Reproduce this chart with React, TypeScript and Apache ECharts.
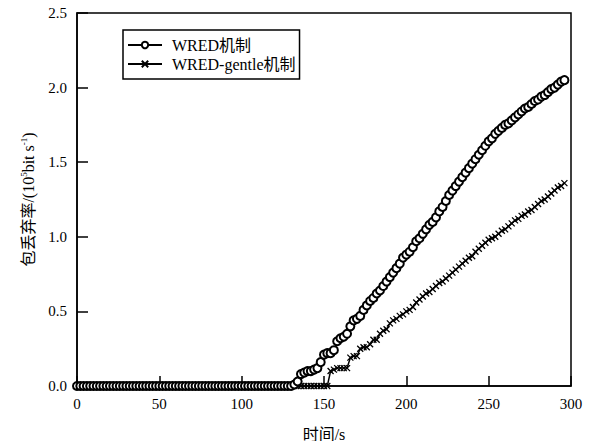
import React, { useEffect, useRef } from "react";
import * as echarts from "echarts";

const xTicks = [0, 50, 100, 150, 200, 250, 300];
const yTicks = [0, 0.5, 1.0, 1.5, 2.0, 2.5];

const timeS = [
  0, 2, 4, 6, 8, 10, 12, 14, 16, 18, 20, 22, 24, 26, 28, 30, 32, 34, 36, 38,
  40, 42, 44, 46, 48, 50, 52, 54, 56, 58, 60, 62, 64, 66, 68, 70, 72, 74, 76, 78,
  80, 82, 84, 86, 88, 90, 92, 94, 96, 98, 100, 102, 104, 106, 108, 110, 112, 114, 116, 118,
  120, 122, 124, 126, 128, 130, 132, 134, 136, 138, 140, 142, 144, 146, 148, 150, 152, 154, 156, 158,
  160, 162, 164, 166, 168, 170, 172, 174, 176, 178, 180, 182, 184, 186, 188, 190, 192, 194, 196, 198,
  200, 202, 204, 206, 208, 210, 212, 214, 216, 218, 220, 222, 224, 226, 228, 230, 232, 234, 236, 238,
  240, 242, 244, 246, 248, 250, 252, 254, 256, 258, 260, 262, 264, 266, 268, 270, 272, 274, 276, 278,
  280, 282, 284, 286, 288, 290, 292, 294, 296,
];

const wredValues = [
  0, 0, 0, 0, 0, 0, 0, 0, 0, 0, 0, 0, 0, 0, 0, 0, 0, 0, 0, 0,
  0, 0, 0, 0, 0, 0, 0, 0, 0, 0, 0, 0, 0, 0, 0, 0, 0, 0, 0, 0,
  0, 0, 0, 0, 0, 0, 0, 0, 0, 0, 0, 0, 0, 0, 0, 0, 0, 0, 0, 0,
  0, 0, 0, 0, 0, 0,
  0.01, 0.03, 0.08, 0.09, 0.10, 0.10, 0.11, 0.12, 0.16, 0.21, 0.22, 0.22, 0.24, 0.30,
  0.32, 0.33, 0.35, 0.40, 0.44, 0.45, 0.47, 0.51, 0.54, 0.57, 0.59, 0.62, 0.64, 0.67, 0.70, 0.73,
  0.76, 0.79, 0.82, 0.86, 0.88, 0.90, 0.93, 0.97, 0.99, 1.02, 1.05, 1.08, 1.10, 1.13, 1.17, 1.20,
  1.24, 1.28, 1.31, 1.34, 1.37, 1.40, 1.43, 1.46, 1.49, 1.52, 1.55, 1.58, 1.61, 1.64, 1.66, 1.69,
  1.71, 1.73, 1.75, 1.76, 1.78, 1.80, 1.82, 1.84, 1.86, 1.87, 1.89, 1.91, 1.92, 1.94, 1.95, 1.97,
  1.99, 2.00, 2.02, 2.04, 2.05,
];

const gentleValues = [
  0, 0, 0, 0, 0, 0, 0, 0, 0, 0, 0, 0, 0, 0, 0, 0, 0, 0, 0, 0,
  0, 0, 0, 0, 0, 0, 0, 0, 0, 0, 0, 0, 0, 0, 0, 0, 0, 0, 0, 0,
  0, 0, 0, 0, 0, 0, 0, 0, 0, 0, 0, 0, 0, 0, 0, 0, 0, 0, 0, 0,
  0, 0, 0, 0, 0, 0, 0, 0, 0, 0, 0, 0, 0, 0, 0, 0, 0,
  0.10, 0.11, 0.12, 0.12, 0.12, 0.12, 0.19, 0.20, 0.20, 0.25, 0.26, 0.26, 0.28, 0.31, 0.31, 0.35,
  0.37, 0.38, 0.42, 0.44, 0.45, 0.47, 0.48, 0.50, 0.51, 0.53, 0.56, 0.58, 0.60, 0.62, 0.63, 0.65,
  0.67, 0.69, 0.70, 0.72, 0.74, 0.76, 0.78, 0.80, 0.82, 0.84, 0.86, 0.87, 0.90, 0.92, 0.94, 0.96,
  0.98, 0.99, 1.00, 1.02, 1.04, 1.05, 1.07, 1.09, 1.11, 1.12, 1.14, 1.15, 1.17, 1.18, 1.20, 1.22,
  1.24, 1.25, 1.27, 1.29, 1.31, 1.33, 1.34, 1.36,
];

const seriesNames = ["WRED机制", "WRED-gentle机制"];
const xName = "时间/s";

const FONT = "'Liberation Serif', 'Noto Sans CJK SC', serif";

export default function App() {
  const ref = useRef<HTMLDivElement>(null);
  useEffect(() => {
    if (!ref.current) return;
    const chart = echarts.init(ref.current, undefined, { renderer: "svg" });
    const wredData = timeS.map((t, i) => [t, wredValues[i]]);
    const gentleData = timeS.map((t, i) => [t, gentleValues[i]]);
    chart.setOption({
      animation: false,
      backgroundColor: "#fff",
      textStyle: { fontFamily: FONT, color: "#000" },
      grid: {
        left: 77,
        right: 24,
        top: 13,
        bottom: 55,
        containLabel: false,
        outerBoundsMode: "none",
        show: true,
        borderColor: "#000",
        borderWidth: 1.5,
        backgroundColor: "transparent",
      },
      legend: {
        left: 123,
        top: 30,
        orient: "vertical",
        data: seriesNames,
        itemWidth: 34,
        itemHeight: 8,
        itemGap: 3,
        padding: [7, 4, 7, 4],
        borderColor: "#000",
        borderWidth: 1.5,
        backgroundColor: "#fff",
        textStyle: { fontFamily: FONT, fontSize: 16, color: "#000", padding: [0, 0, 0, 5] },
      },
      xAxis: {
        type: "value",
        min: xTicks[0],
        max: xTicks[xTicks.length - 1],
        interval: 50,
        name: xName,
        nameLocation: "middle",
        nameGap: 40,
        nameTextStyle: { fontFamily: FONT, fontSize: 16, color: "#000" },
        axisLine: { lineStyle: { color: "#000", width: 1.5 } },
        axisTick: { inside: true, length: 10, lineStyle: { color: "#000", width: 1.5 } },
        axisLabel: { fontFamily: FONT, fontSize: 15, color: "#000", margin: 10 },
        splitLine: { show: false },
      },
      yAxis: {
        type: "value",
        min: yTicks[0],
        max: yTicks[yTicks.length - 1],
        interval: 0.5,
        name: "包丢弃率/(10{sup|5}bit s{sup|-1})",
        nameLocation: "middle",
        nameGap: 36,
        nameRotate: 90,
        nameTextStyle: {
          fontFamily: FONT,
          fontSize: 16,
          color: "#000",
          lineHeight: 18,
          rich: {
            sup: { fontFamily: FONT, fontSize: 9, verticalAlign: "top", lineHeight: 18, color: "#000" },
          },
        },
        axisLine: { lineStyle: { color: "#000", width: 1.5 } },
        axisTick: { inside: true, length: 11, lineStyle: { color: "#000", width: 1.5 } },
        axisLabel: {
          fontFamily: FONT,
          fontSize: 15,
          color: "#000",
          margin: 10,
          formatter: (v: number) => v.toFixed(1),
        },
        splitLine: { show: false },
      },
      series: [
        {
          name: seriesNames[0],
          type: "line",
          data: wredData,
          symbol: "emptyCircle",
          symbolSize: 8,
          showAllSymbol: true,
          lineStyle: { color: "#000", width: 1.5 },
          itemStyle: { color: "#000", borderColor: "#000", borderWidth: 1.2 },
          z: 3,
        },
        {
          name: seriesNames[1],
          type: "line",
          data: gentleData,
          symbol: "path://M0,0L10,10M10,0L0,10",
          symbolSize: 6,
          showAllSymbol: true,
          lineStyle: { color: "#000", width: 1.5 },
          itemStyle: { color: "#000", borderColor: "#000", borderWidth: 1.3 },
          z: 2,
        },
      ],
    });
    return () => chart.dispose();
  }, []);
  return (
    <div
      ref={ref}
      style={{ position: "fixed", left: 0, top: 0, width: 595, height: 441, background: "#fff" }}
    />
  );
}
